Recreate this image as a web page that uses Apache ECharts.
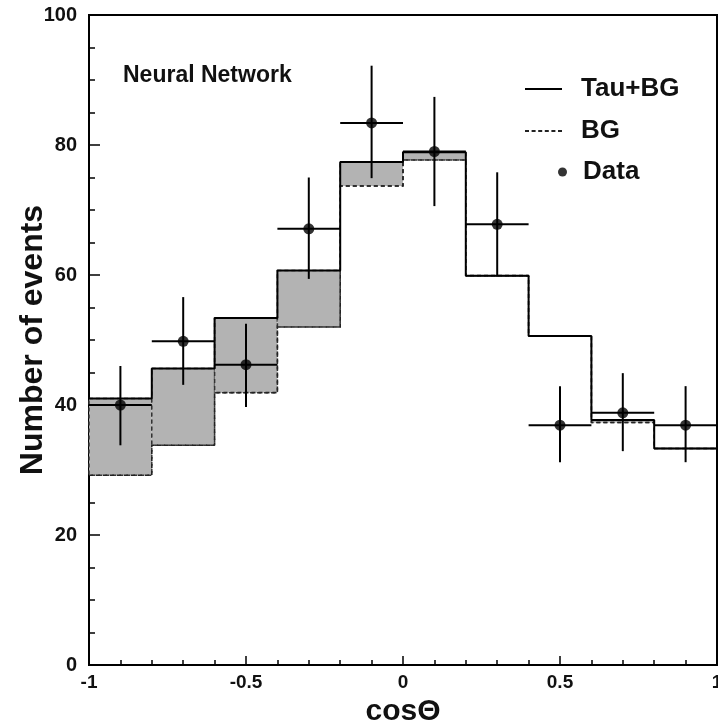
<!DOCTYPE html>
<html>
<head>
<meta charset="utf-8">
<script src="https://cdn.jsdelivr.net/npm/echarts@6/dist/echarts.min.js"></script>
<style>
  html, body { margin: 0; padding: 0; background: #fff; }
  #chart { width: 718px; height: 722px; }
</style>
</head>
<body>
<div id="chart"></div>
<script>
// cos(theta) bins: centres and common width
const binCenters = [-0.9, -0.7, -0.5, -0.3, -0.1, 0.1, 0.3, 0.5, 0.7, 0.9];
const binWidth = 0.2;

// expected counts per bin
const tauPlusBG = [41.0, 45.6, 53.4, 60.7, 77.4, 78.9, 59.9, 50.6, 37.7, 33.3];
const bgOnly    = [29.2, 33.8, 41.9, 52.0, 73.7, 77.7, 59.9, 50.6, 37.3, 33.3];

// observed counts with lower / upper ends of the error bars
const dataCounts = [40.0, 49.8, 46.2, 67.1, 83.4, 79.0, 67.8, 36.9, 38.8, 36.9];
const dataLow    = [33.8, 43.1, 39.7, 59.4, 74.9, 70.6, 59.8, 31.2, 32.9, 31.2];
const dataHigh   = [46.0, 56.6, 52.5, 75.0, 92.2, 87.4, 75.8, 42.9, 44.9, 42.9];

// axis ticks
const xTicks = { min: -1, max: 1, step: 0.5 };
const yTicks = { min: 0, max: 100, step: 20 };

const FONT = '"Liberation Sans", Arial, Helvetica, sans-serif';

// histogram outline as step points at the bin edges
function stepPoints(values) {
  const pts = binCenters.map((c, i) => [c - binWidth / 2, values[i]]);
  const last = binCenters.length - 1;
  pts.push([binCenters[last] + binWidth / 2, values[last]]);
  return pts;
}

const bandData = binCenters.map((c, i) => [c, bgOnly[i], tauPlusBG[i]]);
const errData = binCenters.map((c, i) => [c, dataCounts[i], dataLow[i], dataHigh[i]]);
const pointData = binCenters.map((c, i) => [c, dataCounts[i]]);

// legend glyphs: a solid bar and a dashed bar
const SOLID_ICON = 'path://M0,0h37v2h-37z';
const DASH_ICON = 'path://M0,0h4v2h-4z M6.6,0h4v2h-4z M13.2,0h4v2h-4z M19.8,0h4v2h-4z M26.4,0h4v2h-4z M33,0h4v2h-4z';

const chart = echarts.init(document.getElementById('chart'), null, { renderer: 'canvas' });

const axisCommon = {
  axisLine: { show: true, onZero: false, lineStyle: { color: '#000', width: 2 } },
  axisTick: { show: true, inside: true, lineStyle: { color: '#000', width: 1.5 } },
  minorTick: { show: true, lineStyle: { color: '#000', width: 1.5 } },
  splitLine: { show: false },
  minorSplitLine: { show: false },
  axisLabel: { color: '#111', fontFamily: FONT, fontWeight: 'bold' }
};

const legendText = { fontFamily: FONT, fontWeight: 'bold', fontSize: 26, color: '#111' };

chart.setOption({
  animation: false,
  backgroundColor: '#fff',
  title: {
    text: 'Neural Network',
    left: 118, top: 59,
    textStyle: { fontFamily: FONT, fontWeight: 'bold', fontSize: 23, color: '#111' }
  },
  legend: [
    {
      data: [
        { name: 'Tau+BG', icon: SOLID_ICON, itemStyle: { color: '#000' } },
        { name: 'BG', icon: DASH_ICON, itemStyle: { color: '#222' } }
      ],
      orient: 'vertical',
      left: 520, top: 71,
      itemWidth: 37, itemHeight: 2, itemGap: 16,
      textStyle: Object.assign({}, legendText, { padding: [0, 0, 0, 14] })
    },
    {
      data: [{ name: 'Data', icon: 'circle' }],
      left: 553, top: 154,
      itemWidth: 9, itemHeight: 9,
      textStyle: Object.assign({}, legendText, { padding: [0, 0, 0, 11] })
    }
  ],
  grid: {
    left: 89, right: 1, top: 15, bottom: 57,
    outerBoundsMode: 'none',
    containLabel: false,
    show: true, borderColor: '#000', borderWidth: 2, backgroundColor: 'transparent'
  },
  xAxis: Object.assign({}, axisCommon, {
    type: 'value',
    min: xTicks.min, max: xTicks.max, interval: xTicks.step,
    name: 'cosΘ',
    nameLocation: 'middle', nameGap: 30,
    nameTextStyle: { fontFamily: FONT, fontWeight: 'bold', fontSize: 30, color: '#111' },
    axisTick: Object.assign({}, axisCommon.axisTick, { length: 9 }),
    minorTick: Object.assign({}, axisCommon.minorTick, { splitNumber: 5, length: 5 }),
    axisLabel: Object.assign({}, axisCommon.axisLabel, { fontSize: 19, margin: 8 })
  }),
  yAxis: Object.assign({}, axisCommon, {
    type: 'value',
    min: yTicks.min, max: yTicks.max, interval: yTicks.step,
    name: 'Number of events',
    nameLocation: 'middle', nameGap: 40, nameRotate: 90,
    nameMoveOverlap: false,
    nameTextStyle: { fontFamily: FONT, fontWeight: 'bold', fontSize: 32, color: '#111' },
    axisTick: Object.assign({}, axisCommon.axisTick, { length: 11 }),
    minorTick: Object.assign({}, axisCommon.minorTick, { splitNumber: 4, length: 6 }),
    axisLabel: Object.assign({}, axisCommon.axisLabel, { fontSize: 20, margin: 12 })
  }),
  series: [
    {
      // shaded band between the background and the total expectation
      name: 'band',
      type: 'custom',
      z: 1,
      data: bandData,
      renderItem: function (params, api) {
        const c = api.value(0);
        const p0 = api.coord([c - binWidth / 2, api.value(2)]);
        const p1 = api.coord([c + binWidth / 2, api.value(1)]);
        return {
          type: 'rect',
          shape: { x: p0[0], y: p0[1], width: p1[0] - p0[0], height: p1[1] - p0[1] },
          style: { fill: '#b3b3b3', stroke: '#333', lineWidth: 1.5, lineDash: [4, 3] }
        };
      }
    },
    {
      name: 'BG',
      type: 'line',
      step: 'end',
      z: 2,
      symbol: 'none',
      data: stepPoints(bgOnly),
      lineStyle: { color: '#222', width: 1.6, type: [4, 3] },
      itemStyle: { color: '#222' }
    },
    {
      name: 'Tau+BG',
      type: 'line',
      step: 'end',
      z: 3,
      symbol: 'none',
      data: stepPoints(tauPlusBG),
      lineStyle: { color: '#000', width: 2 },
      itemStyle: { color: '#000' }
    },
    {
      // error bars on the data points
      name: 'errors',
      type: 'custom',
      z: 4,
      data: errData,
      renderItem: function (params, api) {
        const x = api.value(0);
        const y = api.value(1);
        const lo = api.coord([x, api.value(2)]);
        const hi = api.coord([x, api.value(3)]);
        const l = api.coord([x - binWidth / 2, y]);
        const r = api.coord([x + binWidth / 2, y]);
        const st = { stroke: '#000', lineWidth: 2 };
        return {
          type: 'group',
          children: [
            { type: 'line', shape: { x1: lo[0], y1: lo[1], x2: hi[0], y2: hi[1] }, style: st },
            { type: 'line', shape: { x1: l[0], y1: l[1], x2: r[0], y2: r[1] }, style: st }
          ]
        };
      }
    },
    {
      name: 'Data',
      type: 'scatter',
      z: 5,
      symbol: 'circle',
      symbolSize: 11,
      data: pointData,
      itemStyle: { color: '#000' }
    }
  ]
});
</script>
</body>
</html>
